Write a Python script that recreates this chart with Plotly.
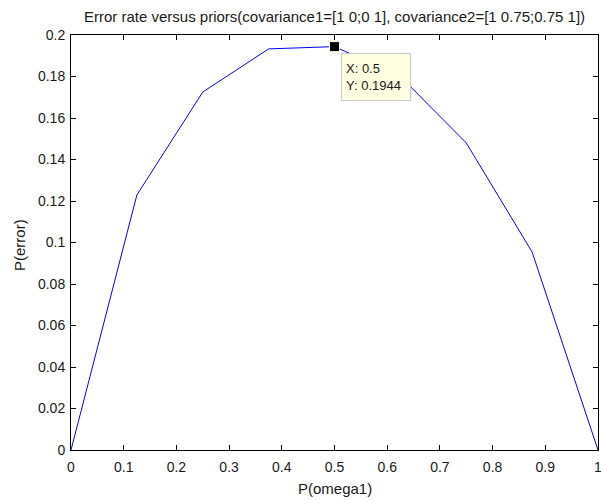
import plotly.graph_objects as go

# Data
prior_omega1 = [0, 0.125, 0.25, 0.375, 0.5, 0.625, 0.75, 0.875, 1.0]
p_error = [0, 0.1229, 0.1725, 0.1933, 0.1944, 0.1800, 0.1480, 0.0954, 0]
tip_x = [0.5]
tip_y = [0.1944]
x_ticks = [0, 0.1, 0.2, 0.3, 0.4, 0.5, 0.6, 0.7, 0.8, 0.9, 1]
x_tick_labels = ["0", "0.1", "0.2", "0.3", "0.4", "0.5", "0.6", "0.7", "0.8", "0.9", "1"]
y_ticks = [0, 0.02, 0.04, 0.06, 0.08, 0.1, 0.12, 0.14, 0.16, 0.18, 0.2]
y_tick_labels = ["0", "0.02", "0.04", "0.06", "0.08", "0.1", "0.12", "0.14", "0.16", "0.18", "0.2"]
title_text = "Error rate versus priors(covariance1=[1 0;0 1], covariance2=[1 0.75;0.75 1])"
x_label = "P(omega1)"
y_label = "P(error)"

FONT = "Liberation Sans, Arial, sans-serif"
TXT = "#1a1a1a"

fig = go.Figure()
fig.add_trace(go.Scatter(x=prior_omega1, y=p_error, mode="lines",
                         line=dict(color="#0000ff", width=1), hoverinfo="skip"))
fig.add_trace(go.Scatter(x=tip_x, y=tip_y, mode="markers",
                         marker=dict(symbol="square", size=10, color="black",
                                     line=dict(color="#ffffe1", width=1)),
                         hoverinfo="skip"))

fig.add_annotation(x=tip_x[0], y=tip_y[0], xref="x", yref="y",
                   text=f"X: {tip_x[0]:g}<br>Y: {tip_y[0]:.4f}",
                   showarrow=False, xanchor="left", yanchor="top",
                   xshift=6, yshift=-6, align="left",
                   width=60, height=38, borderpad=4,
                   bgcolor="#ffffe1", bordercolor="#c8c8c8", borderwidth=1,
                   font=dict(family=FONT, size=13, color=TXT))

fig.add_annotation(text=title_text, xref="paper", yref="paper",
                   x=0.5, y=1 + 18 / 415, xanchor="center", yanchor="middle",
                   showarrow=False, font=dict(family=FONT, size=15, color=TXT))
fig.add_annotation(text=x_label, xref="paper", yref="paper",
                   x=0.5, y=-38 / 415, xanchor="center", yanchor="middle",
                   showarrow=False, font=dict(family=FONT, size=15, color=TXT))
fig.add_annotation(text=y_label, xref="paper", yref="paper",
                   x=-(71 - 19) / 527, y=(450 - 245) / 415, xanchor="center", yanchor="middle",
                   textangle=-90, showarrow=False, font=dict(family=FONT, size=15, color=TXT))

axis_common = dict(showgrid=False, zeroline=False, showline=True, linecolor="black",
                   linewidth=1, mirror="ticks", ticks="inside", ticklen=5,
                   tickcolor="black", tickwidth=1, ticklabeloverflow="allow",
                   automargin=False,
                   tickfont=dict(family=FONT, size=14, color=TXT))

fig.update_layout(
    width=601, height=500,
    margin=dict(l=71, r=3, t=35, b=50),
    paper_bgcolor="white", plot_bgcolor="white",
    showlegend=False,
    xaxis=dict(range=[0, 1], tickmode="array", tickvals=x_ticks,
               ticktext=x_tick_labels, ticklabelstandoff=4, **axis_common),
    yaxis=dict(range=[0, 0.2], tickmode="array", tickvals=y_ticks,
               ticktext=y_tick_labels, ticklabelstandoff=2, **axis_common),
)

fig.write_html("out.html")
